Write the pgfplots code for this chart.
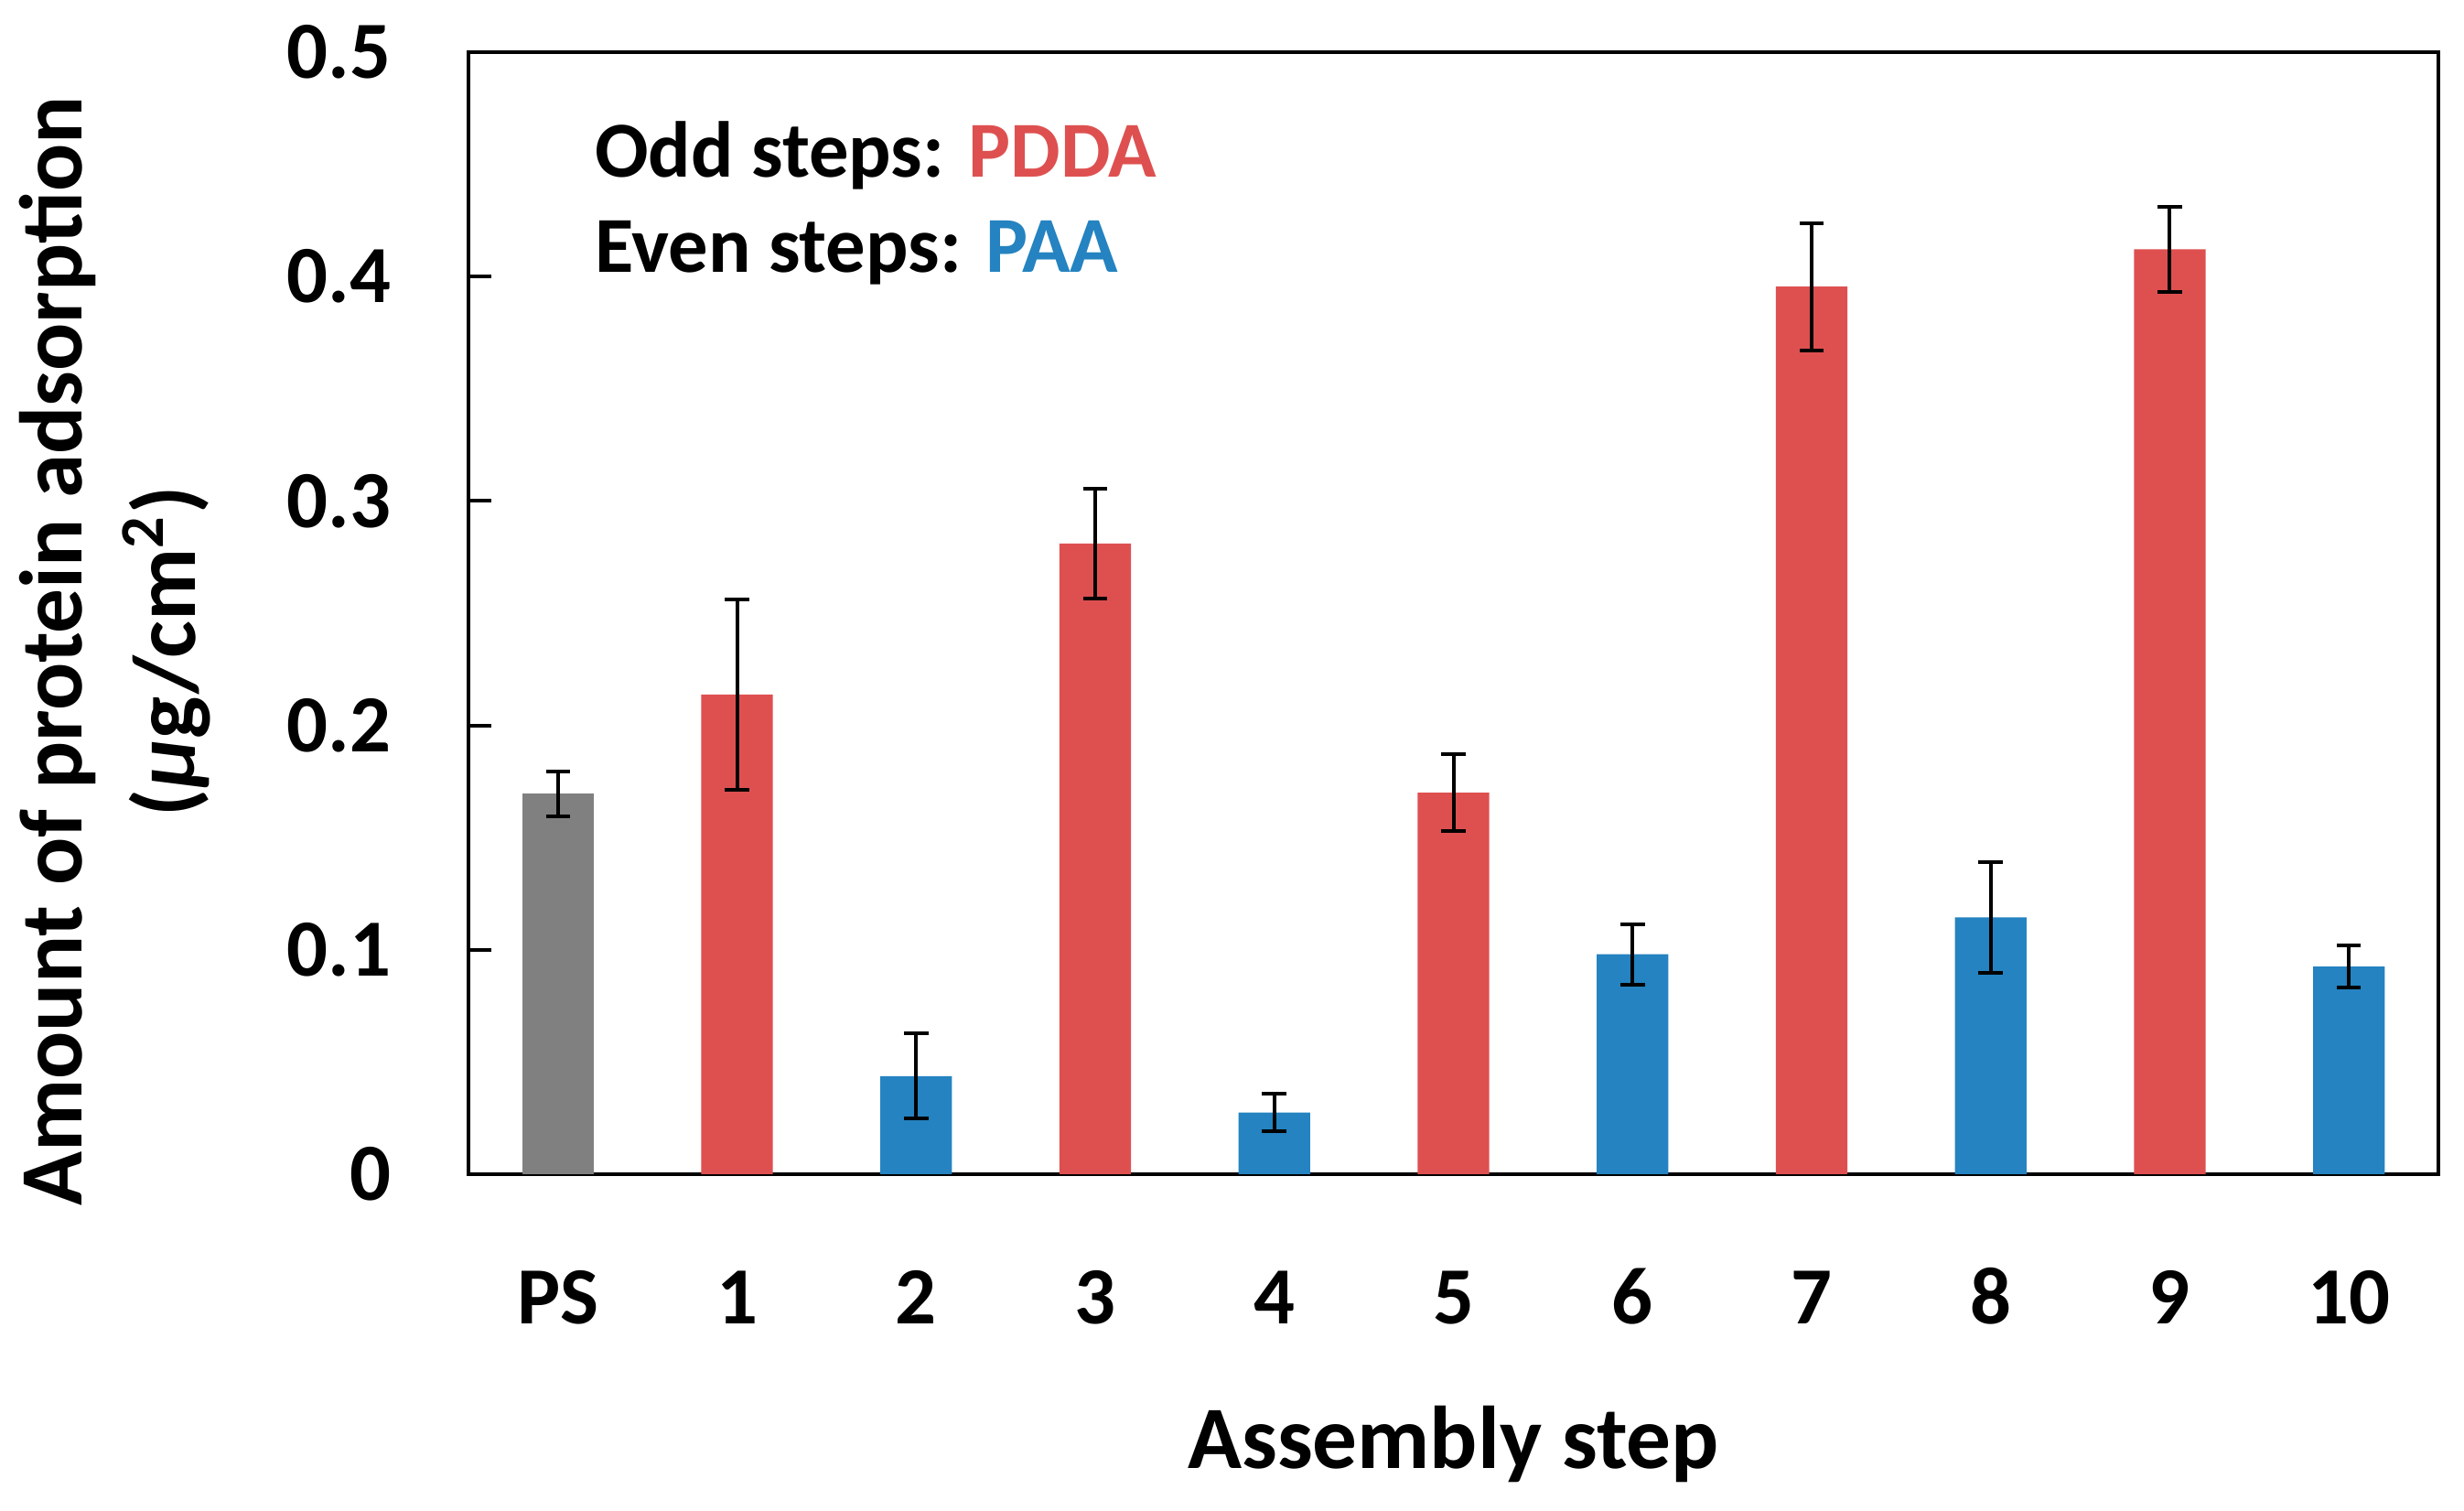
\documentclass[border=0pt]{standalone}
\usepackage{fontspec}
\setmainfont{Carlito}
\usepackage{pgfplots}
\pgfplotsset{compat=1.18}
\usepackage{pgfplotstable}
\usetikzlibrary{calc}
\definecolor{cred}{HTML}{DE5050}
\definecolor{cblue}{HTML}{2483C0}
\definecolor{cgray}{HTML}{808080}

\pgfplotstableread{
x y e
0 0.1696 0.0100
}\psdata
\pgfplotstableread{
x y e
1 0.2137 0.0424
3 0.2810 0.0245
5 0.1700 0.0170
7 0.3955 0.0283
9 0.4121 0.0188
}\reddata
\pgfplotstableread{
x y e
2 0.0437 0.0190
4 0.0275 0.0085
6 0.0980 0.0135
8 0.1144 0.0247
10 0.0925 0.0095
}\bluedata

\begin{document}
\begin{tikzpicture}
\begin{axis}[
  scale only axis, width=322.95pt, height=183.9pt,
  xmin=-0.5, xmax=10.5, ymin=0, ymax=0.5,
  ytick={0,0.1,0.2,0.3,0.4,0.5},
  yticklabels={0,0.1,0.2,0.3,0.4,0.5},
  xtick={0,1,2,3,4,5,6,7,8,9,10},
  xticklabels={PS,1,2,3,4,5,6,7,8,9,10},
  /pgf/number format/assume math mode=true,
  axis line style={line width=0.6pt},
  ytick pos=left, tick align=inside, major tick length=3.8pt,
  major tick style={line width=0.6pt, black},
  major x tick style={draw=none},
  yticklabel style={anchor=east, inner sep=0pt, xshift=-12.5pt, font=\bfseries\fontsize{13.3}{16}\selectfont},
  xticklabel style={anchor=base, inner sep=0pt, yshift=-20.7pt, font=\bfseries\fontsize{13.3}{16}\selectfont},
  xlabel={Assembly step},
  xlabel style={at={(axis description cs:0.5,-0.2626)}, anchor=base, inner sep=0pt, font=\bfseries\fontsize{14.6}{17}\selectfont},
  ylabel={Amount of protein adsorption\\(\textit{μ}g/cm\textsuperscript{2})},
  ylabel style={at={(axis description cs:-0.1797,0.466)}, anchor=center, align=center, inner sep=0pt, font=\bfseries\fontsize{14.6}{18.6}\selectfont},
  ybar, bar width=0.4,
  clip=false,
]
\addplot[ybar, bar shift=0pt, fill=cgray, draw=none,
  error bars/.cd, y dir=both, y explicit,
  error bar style={black, line width=0.6pt},
  error mark options={rotate=90, black, mark size=2pt, line width=0.6pt}]
  table[x=x, y=y, y error=e]{\psdata};
\addplot[ybar, bar shift=0pt, fill=cred, draw=none,
  error bars/.cd, y dir=both, y explicit,
  error bar style={black, line width=0.6pt},
  error mark options={rotate=90, black, mark size=2pt, line width=0.6pt}]
  table[x=x, y=y, y error=e]{\reddata};
\addplot[ybar, bar shift=0pt, fill=cblue, draw=none,
  error bars/.cd, y dir=both, y explicit,
  error bar style={black, line width=0.6pt},
  error mark options={rotate=90, black, mark size=2pt, line width=0.6pt}]
  table[x=x, y=y, y error=e]{\bluedata};
\node[anchor=base west, inner sep=0pt, font=\bfseries\fontsize{13}{16}\selectfont] at (axis description cs:0.0636,0.889) {Odd steps: \textcolor{cred}{PDDA}};
\node[anchor=base west, inner sep=0pt, font=\bfseries\fontsize{13}{16}\selectfont] at (axis description cs:0.0636,0.8034) {Even steps: \textcolor{cblue}{PAA}};
\coordinate (bl) at (rel axis cs:0,0);
\coordinate (tr) at (rel axis cs:1,1);
\end{axis}
\pgfresetboundingbox
\path ($(bl)+(-76.8pt,-55.2pt)$) rectangle ($(tr)+(4.2pt,8.55pt)$);
\end{tikzpicture}
\end{document}
